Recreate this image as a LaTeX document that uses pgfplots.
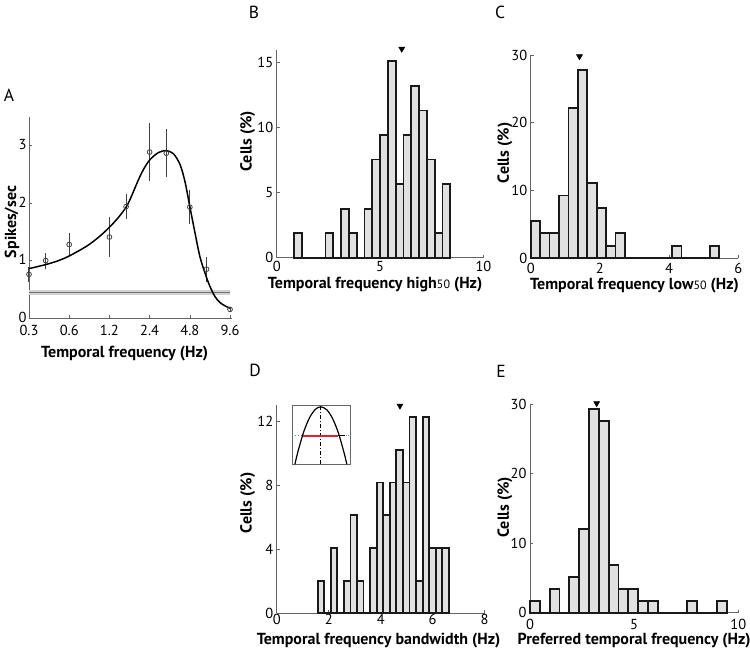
\documentclass[border=0pt]{standalone}
\usepackage{fontspec}
\setmainfont{PT Sans}
\usepackage{pgfplots}
\pgfplotsset{compat=1.18}
\definecolor{histgray}{RGB}{225,225,225}
\definecolor{axgray}{RGB}{100,100,100}
\definecolor{edgecol}{RGB}{25,25,25}
\definecolor{insetred}{RGB}{235,30,40}
\pgfplotsset{
  panel/.style={
    scale only axis, anchor=south west, clip=false,
    axis x line*=bottom, axis y line*=left,
    axis line style={axgray, line width=0.6pt},
    tick align=inside, major tick length=3pt,
    tick style={axgray, line width=0.6pt},
    tick label style={font=\fontsize{14.5}{14.5}\selectfont},
    /pgf/number format/assume math mode=true,
    label style={font=\bfseries\fontsize{16}{17}\selectfont},
    xlabel style={anchor=center},
    ylabel style={anchor=center},
  },
  histbars/.style={ybar interval, fill=histgray, draw=edgecol, line width=1.8pt},
  zeroline/.style={draw=edgecol, line width=1.8pt},
  tri/.style={only marks, mark=triangle*, mark size=3.5pt, mark options={rotate=180, fill=black, draw=black}},
}
\begin{document}
\begin{tikzpicture}
\useasboundingbox (0,0) rectangle (750pt,-648pt);
% panel letters
\node[font=\fontsize{17.5}{17.5}\selectfont] at (9pt,-95pt) {A};
\node[font=\fontsize{17.5}{17.5}\selectfont] at (254pt,-12.5pt) {B};
\node[font=\fontsize{17.5}{17.5}\selectfont] at (500pt,-12.5pt) {C};
\node[font=\fontsize{17.5}{17.5}\selectfont] at (255pt,-370pt) {D};
\node[font=\fontsize{17.5}{17.5}\selectfont] at (501pt,-371pt) {E};

% ---------------- A ----------------
\begin{axis}[panel, at={(29pt,-318pt)}, width=203.4pt, height=201pt,
  xmode=log, log basis x=2, xmin=0.3, xmax=10, ymin=0, ymax=3.5,
  xtick={0.3,0.6,1.2,2.4,4.8,9.6}, xticklabels={0.3,0.6,1.2,2.4,4.8,9.6},
  ytick={0,1,2,3},
  xticklabel style={yshift=-4pt},
  yticklabel style={xshift=1pt, yshift=1pt},
  xlabel={Temporal frequency (Hz)}, ylabel={Spikes/sec},
  xlabel style={at={(axis description cs:0.47,-0.178)}},
  ylabel style={at={(axis description cs:-0.084,0.478)}}]
\addplot[fill=black!18, draw=none] coordinates {(0.3,0.40) (9.6,0.40) (9.6,0.48) (0.3,0.48)};
\addplot[black!55, line width=1.3pt] coordinates {(0.3,0.44) (9.6,0.44)};
\addplot[only marks, mark=o, mark size=2.4pt, black!75, mark options={line width=0.8pt},
  error bars/.cd, y dir=both, y explicit, error bar style={black!75, line width=1pt}, error mark=none]
coordinates {
(0.3,0.76) +- (0,0.13)
(0.4,1.00) +- (0,0.14)
(0.6,1.28) +- (0,0.20)
(1.2,1.41) +- (0,0.35)
(1.6,1.94) +- (0,0.22)
(2.4,2.89) +- (0,0.50)
(3.2,2.87) +- (0,0.42)
(4.8,1.93) +- (0,0.30)
(6.4,0.85) +- (0,0.22)
(9.6,0.15) +- (0,0.05)
};
\addplot[black, line width=1.5pt, smooth] coordinates {
(0.30,0.86) (0.40,0.93) (0.50,1.00) (0.60,1.08) (0.81,1.25) (1.00,1.41) (1.20,1.58)
(1.40,1.75) (1.59,1.92) (1.71,2.06) (2.00,2.43) (2.20,2.62) (2.42,2.76) (2.79,2.88)
(3.19,2.915) (3.62,2.86) (4.06,2.67) (4.42,2.37) (4.80,1.94) (5.25,1.48) (5.71,1.07)
(6.24,0.78) (6.79,0.55) (7.42,0.37) (8.07,0.27) (8.82,0.21) (9.60,0.17)
};
\end{axis}

% ---------------- B ----------------
\begin{axis}[panel, at={(276.7pt,-257.7pt)}, width=206.7pt, height=208.2pt,
  xmin=0, xmax=10, ymin=0, ymax=16, xtick={0,5,10}, ytick={0,5,10,15},
  xlabel={Temporal frequency high{\mdseries\fontsize{12}{12}\selectfont 50} (Hz)}, ylabel={Cells (\%)},
  xlabel style={at={(axis description cs:0.476,-0.13)}},
  ylabel style={at={(axis description cs:-0.14,0.56)}}]
\addplot[histbars] coordinates {
(0.850,1.89) (1.228,0) (1.605,0) (1.983,0) (2.360,1.89) (2.738,0) (3.115,3.77)
(3.493,1.89) (3.870,0) (4.248,3.77) (4.625,7.55) (5.003,9.43) (5.380,15.09)
(5.758,5.66) (6.135,9.43) (6.513,13.21) (6.890,11.32) (7.268,7.55) (7.645,1.89)
(8.023,5.66) (8.400,5.66)
};
\addplot[zeroline] coordinates {(0.85,0) (8.4,0)};
\addplot[tri] coordinates {(6.05,16.05)};
\end{axis}

% ---------------- C ----------------
\begin{axis}[panel, at={(530.7pt,-258.3pt)}, width=207.6pt, height=203.3pt,
  xmin=0, xmax=6, ymin=0, ymax=30, xtick={0,2,4,6}, ytick={0,10,20,30},
  xticklabel style={yshift=-1pt},
  xlabel={Temporal frequency low{\mdseries\fontsize{12}{12}\selectfont 50} (Hz)}, ylabel={Cells (\%)},
  xlabel style={at={(axis description cs:0.50,-0.133)}},
  ylabel style={at={(axis description cs:-0.124,0.518)}}]
\addplot[histbars] coordinates {
(0,5.56) (0.2725,3.70) (0.545,3.70) (0.8175,9.26) (1.09,22.22) (1.3625,27.78)
(1.635,11.11) (1.9075,7.41) (2.18,1.85) (2.4525,3.70) (2.725,0) (2.9975,0)
(3.27,0) (3.5425,0) (3.815,0) (4.0875,1.85) (4.36,0) (4.6325,0) (4.905,0)
(5.1775,1.85) (5.45,1.85)
};
\addplot[zeroline] coordinates {(0,0) (5.45,0)};
\addplot[tri] coordinates {(1.41,29.8)};
\end{axis}

% ---------------- D ----------------
\begin{axis}[panel, at={(276.7pt,-613.3pt)}, width=208pt, height=208.3pt,
  xmin=0, xmax=8, ymin=0, ymax=13, xtick={0,2,4,6,8}, ytick={0,4,8,12},
  xticklabel style={yshift=3pt},
  xlabel={Temporal frequency bandwidth (Hz)}, ylabel={Cells (\%)},
  xlabel style={at={(axis description cs:0.49,-0.13)}},
  ylabel style={at={(axis description cs:-0.139,0.53)}}]
\addplot[histbars] coordinates {
(1.575,2.04) (1.827,0) (2.080,4.08) (2.332,0) (2.584,2.04) (2.837,6.12) (3.089,2.04)
(3.341,0) (3.593,4.08) (3.846,8.16) (4.098,6.12) (4.350,8.16) (4.603,10.20)
(4.855,8.16) (5.107,12.24) (5.359,2.04) (5.612,12.24) (5.864,4.08) (6.116,4.08)
(6.369,4.08) (6.621,4.08)
};
\addplot[zeroline] coordinates {(1.575,0) (6.621,0)};
\addplot[tri] coordinates {(4.74,12.95)};
\end{axis}

% inset of D
\begin{axis}[scale only axis, anchor=south west, at={(292.3pt,-464.3pt)},
  width=57.7pt, height=59.3pt, xmin=0, xmax=1, ymin=0, ymax=1,
  xtick=\empty, ytick=\empty, axis line style={black!60, line width=0.6pt}]
\addplot[black!50, dotted, line width=0.8pt] coordinates {(0,0.485) (1,0.485)};
\addplot[black, line width=0.9pt, dash pattern=on 4pt off 2pt on 1pt off 2pt] coordinates {(0.495,0) (0.495,1)};
\addplot[black, line width=1.2pt, smooth] coordinates {
(0.045,0) (0.1,0.223) (0.2,0.553) (0.3,0.788) (0.4,0.927) (0.495,0.97)
(0.6,0.917) (0.7,0.769) (0.8,0.525) (0.9,0.184) (0.945,0)
};
\addplot[black, line width=1.1pt] coordinates {(0.80,0.485) (0.91,0.485)};
\addplot[draw=insetred, line width=2pt] coordinates {(0.19,0.485) (0.80,0.485)};
\end{axis}

% ---------------- E ----------------
\begin{axis}[panel, at={(530pt,-612.7pt)}, width=208.3pt, height=208.7pt,
  xmin=0, xmax=10, ymin=0, ymax=30, xtick={0,5,10}, ytick={0,10,20,30},
  xticklabel style={yshift=-3pt},
  xlabel={Preferred temporal frequency (Hz)}, ylabel={Cells (\%)},
  xlabel style={at={(axis description cs:0.50,-0.134)}},
  ylabel style={at={(axis description cs:-0.12,0.506)}}]
\addplot[histbars] coordinates {
(0,1.72) (0.472,0) (0.944,3.45) (1.416,0) (1.888,5.17) (2.36,12.07) (2.832,29.31)
(3.304,27.59) (3.776,6.90) (4.248,3.45) (4.72,3.45) (5.192,1.72) (5.664,1.72)
(6.136,0) (6.608,0) (7.08,0) (7.552,1.72) (8.024,0) (8.496,0) (8.968,1.72) (9.44,1.72)
};
\addplot[zeroline] coordinates {(0,0) (9.44,0)};
\addplot[tri] coordinates {(3.2,30.1)};
\end{axis}
\end{tikzpicture}
\end{document}
